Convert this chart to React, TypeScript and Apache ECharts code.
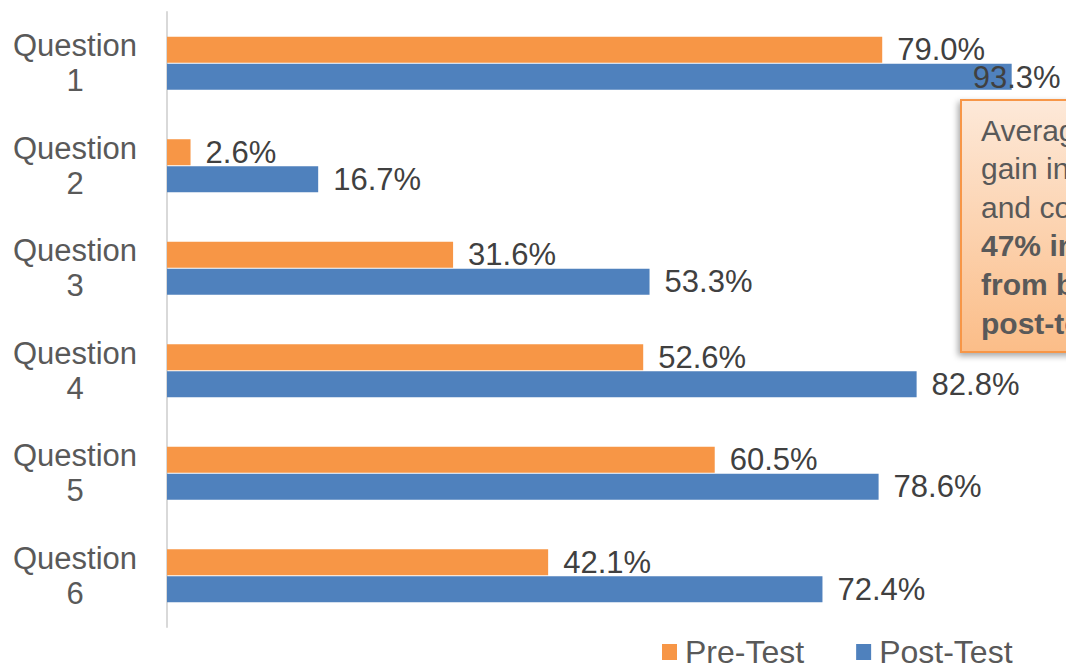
import React, { useEffect, useRef } from "react";
import * as echarts from "echarts";

const categories = ["Question\n1", "Question\n2", "Question\n3", "Question\n4", "Question\n5", "Question\n6"];
const preTest = [79.0, 2.6, 31.6, 52.6, 60.5, 42.1];
const postTest = [93.3, 16.7, 53.3, 82.8, 78.6, 72.4];
const seriesNames = ["Pre-Test", "Post-Test"];
const calloutLines = [
  { text: "Average overall", bold: false },
  { text: "gain in knowledge", bold: false },
  { text: "and confidence:", bold: false },
  { text: "47% increase", bold: true },
  { text: "from baseline to", bold: true },
  { text: "post-test", bold: true },
];

const FONT = "Liberation Sans, Arial, sans-serif";

export default function App() {
  const ref = useRef<HTMLDivElement>(null);
  useEffect(() => {
    if (!ref.current) return;
    const chart = echarts.init(ref.current, null, { renderer: "svg" });
    const fmt = (p: any) => Number(p.value).toFixed(1) + "%";
    const labelBase = {
      show: true,
      position: "right",
      distance: 15,
      fontSize: 31,
      fontFamily: FONT,
      color: "#404040",
      formatter: fmt,
    };
    const postData = postTest.map((v, i) =>
      i === 0 ? { value: v, label: { offset: [-54, 1] } } : v
    );
    chart.setOption({
      animation: false,
      backgroundColor: "#ffffff",
      textStyle: { fontFamily: FONT },
      grid: { left: 167, top: 12, right: 0, bottom: 40, containLabel: false },
      xAxis: {
        type: "value",
        min: 0,
        max: 99.3,
        show: false,
      },
      yAxis: {
        type: "category",
        data: categories,
        inverse: true,
        axisLine: { show: true, lineStyle: { color: "#d9d9d9", width: 2 } },
        axisTick: { show: false },
        axisLabel: {
          align: "center",
          margin: 92,
          fontSize: 31,
          lineHeight: 35,
          color: "#595959",
          fontFamily: FONT,
        },
      },
      legend: {
        left: 657,
        top: 631,
        itemWidth: 15,
        itemHeight: 16,
        itemGap: 52,
        icon: "rect",
        textStyle: {
          fontSize: 32,
          lineHeight: 26,
          color: "#595959",
          fontFamily: FONT,
          padding: [0, 0, 0, 3],
        },
        data: seriesNames,
      },
      series: [
        {
          name: seriesNames[0],
          type: "bar",
          data: preTest,
          barWidth: 26,
          barGap: "4%",
          itemStyle: { color: "#f79646" },
          label: labelBase,
        },
        {
          name: seriesNames[1],
          type: "bar",
          data: postData,
          barWidth: 26,
          itemStyle: { color: "#4f81bd" },
          label: labelBase,
        },
      ],
      graphic: [
        {
          type: "rect",
          shape: { x: 961, y: 100, width: 220, height: 252 },
          style: {
            fill: {
              type: "linear",
              x: 0,
              y: 0,
              x2: 0,
              y2: 1,
              colorStops: [
                { offset: 0, color: "#fde9d9" },
                { offset: 1, color: "#fbbd88" },
              ],
            },
            stroke: "#f79646",
            lineWidth: 2,
            shadowBlur: 6,
            shadowOffsetX: -2,
            shadowOffsetY: 3,
            shadowColor: "rgba(0,0,0,0.35)",
          },
          z: 100,
        },
        ...calloutLines.map((l, i) => ({
          type: "text",
          x: 981,
          y: 130 + i * 38.6,
          z: 101,
          style: {
            text: l.text,
            fontSize: 30,
            fontWeight: l.bold ? "bold" : "normal",
            fontFamily: FONT,
            fill: "#595959",
            verticalAlign: "middle",
            align: "left",
          },
        })),
      ],
    });
    return () => chart.dispose();
  }, []);
  return (
    <div
      ref={ref}
      style={{ position: "absolute", left: 0, top: 0, width: 1066, height: 667 }}
    />
  );
}
